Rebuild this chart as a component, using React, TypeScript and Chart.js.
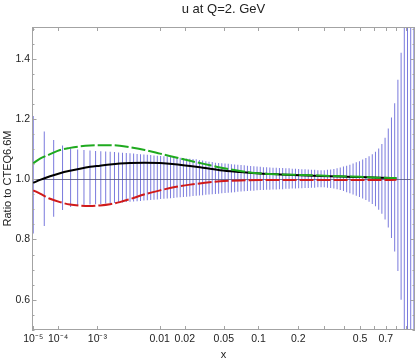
import React, { useEffect, useRef } from "react";
import { Chart, registerables, Scale } from "chart.js";

Chart.register(...registerables);

// ---------- axis settings ----------
const POWER = 0.2; // x axis is drawn on an x^0.2 scale
const X_MIN = 8.6e-6;
const X_MAX = 1;
const Y_MIN = 0.4995;
const Y_MAX = 1.5052;
const REF_Y = 1;

const X_TICKS = [1e-5, 1e-4, 1e-3, 0.01, 0.02, 0.05, 0.1, 0.2, 0.3, 0.4, 0.5, 0.6, 0.7, 0.8, 0.9];
const X_LABELS = ["10\u207B\u2075", "10\u207B\u2074", "10\u207B\u00B3", "0.01", "0.02", "0.05", "0.1", "0.2", "", "", "0.5", "", "0.7", "", ""];
const Y_TICKS = [0.5, 0.55, 0.6, 0.65, 0.7, 0.75, 0.8, 0.85, 0.9, 0.95, 1.0, 1.05, 1.1, 1.15, 1.2, 1.25, 1.3, 1.35, 1.4, 1.45, 1.5];
const Y_LABELED = [0.6, 0.8, 1.0, 1.2, 1.4];

// ---------- error band (CTEQ6.6 uncertainty) ----------
const BAR_X = [
  1.0e-5, 3.17e-5, 7.13e-5, 1.38e-4, 2.35e-4, 3.59e-4, 5.1e-4, 6.98e-4, 9.18e-4, 1.17e-3,
  1.455e-3, 1.763e-3, 2.104e-3, 2.478e-3, 2.88e-3, 3.32e-3, 3.8e-3, 4.318e-3, 4.874e-3, 5.468e-3,
  6.118e-3, 6.832e-3, 7.605e-3, 8.42e-3, 9.31e-3, 0.01027, 0.01131, 0.01243, 0.01364, 0.01494,
  0.01628, 0.01773, 0.01929, 0.02095, 0.02272, 0.0246, 0.02661, 0.02875, 0.03102, 0.03344,
  0.036, 0.03873, 0.04161, 0.04466, 0.04787, 0.0513, 0.0549, 0.0587, 0.06271, 0.06693,
  0.0714, 0.07608, 0.081, 0.0862, 0.09167, 0.09736, 0.1034, 0.1096, 0.1162, 0.1231,
  0.1303, 0.1379, 0.1458, 0.1541, 0.1628, 0.1718, 0.1812, 0.191, 0.2012, 0.2119,
  0.2231, 0.2347, 0.2467, 0.2593, 0.2724, 0.286, 0.3001, 0.3148, 0.33, 0.3459,
  0.3624, 0.3794, 0.3971, 0.4154, 0.4345, 0.4542, 0.4746, 0.4958, 0.5177, 0.5404,
  0.5638, 0.5881, 0.6132, 0.6392, 0.6659, 0.6936, 0.7222, 0.7517, 0.7823, 0.814,
  0.8466, 0.8801, 0.9147, 0.9503, 0.9871,
];
const BAR_LOW = [
  0.82, 0.845, 0.875, 0.898, 0.908, 0.913, 0.915, 0.916, 0.917, 0.918,
  0.919, 0.92, 0.921, 0.922, 0.923, 0.924, 0.925, 0.926, 0.927, 0.928,
  0.929, 0.93, 0.931, 0.932, 0.933, 0.934, 0.935, 0.936, 0.937, 0.938,
  0.939, 0.94, 0.941, 0.942, 0.943, 0.944, 0.945, 0.946, 0.947, 0.948,
  0.949, 0.95, 0.951, 0.952, 0.953, 0.954, 0.955, 0.956, 0.957, 0.958,
  0.959, 0.96, 0.961, 0.962, 0.962, 0.963, 0.964, 0.964, 0.965, 0.965,
  0.966, 0.966, 0.967, 0.967, 0.968, 0.968, 0.969, 0.969, 0.97, 0.97,
  0.971, 0.971, 0.972, 0.972, 0.973, 0.973, 0.973, 0.972, 0.971, 0.969,
  0.967, 0.964, 0.961, 0.957, 0.953, 0.949, 0.945, 0.941, 0.936, 0.931,
  0.925, 0.918, 0.91, 0.899, 0.885, 0.866, 0.84, 0.805, 0.76, 0.695,
  0.6, 0.48, 0.3, 0.0, -0.5,
];
const BAR_HIGH = [
  1.21, 1.158, 1.13, 1.112, 1.103, 1.099, 1.097, 1.095, 1.094, 1.093,
  1.092, 1.091, 1.09, 1.089, 1.088, 1.087, 1.086, 1.085, 1.084, 1.083,
  1.082, 1.081, 1.08, 1.079, 1.078, 1.077, 1.076, 1.075, 1.074, 1.073,
  1.072, 1.071, 1.07, 1.069, 1.068, 1.067, 1.066, 1.064, 1.062, 1.06,
  1.058, 1.057, 1.055, 1.054, 1.053, 1.052, 1.051, 1.05, 1.049, 1.048,
  1.047, 1.046, 1.045, 1.044, 1.043, 1.042, 1.041, 1.04, 1.04, 1.039,
  1.038, 1.038, 1.037, 1.037, 1.036, 1.036, 1.035, 1.035, 1.034, 1.033,
  1.033, 1.032, 1.031, 1.031, 1.03, 1.03, 1.03, 1.031, 1.032, 1.034,
  1.036, 1.039, 1.042, 1.045, 1.048, 1.052, 1.056, 1.06, 1.065, 1.07,
  1.076, 1.083, 1.091, 1.102, 1.117, 1.138, 1.168, 1.205, 1.252, 1.33,
  1.42, 1.54, 1.75, 2.1, 2.6,
];

// ---------- curves ----------
const CURVE_X = [
  1e-5, 2.1e-5, 5.3e-5, 1.15e-4, 2.26e-4, 4.1e-4, 7.0e-4, 1.13e-3, 1.75e-3, 2.6e-3,
  3.8e-3, 6.3e-3, 0.0101, 0.0154, 0.0228, 0.0328, 0.046, 0.07, 0.103, 0.147,
  0.206, 0.282, 0.378, 0.5, 0.651, 0.8,
];
const GREEN = [
  1.053, 1.068, 1.083, 1.097, 1.104, 1.109, 1.112, 1.113, 1.113, 1.111,
  1.106, 1.097, 1.085, 1.073, 1.061, 1.05, 1.039, 1.027, 1.019, 1.016,
  1.014, 1.012, 1.01, 1.008, 1.005, 1.004,
];
const BLACK = [
  0.988, 0.998, 1.01, 1.02, 1.028, 1.035, 1.041, 1.045, 1.049, 1.052,
  1.054, 1.055, 1.054, 1.05, 1.044, 1.037, 1.03, 1.024, 1.019, 1.016,
  1.013, 1.011, 1.009, 1.007, 1.005, 1.003,
];
const RED = [
  0.963, 0.952, 0.935, 0.924, 0.916, 0.912, 0.911, 0.913, 0.917, 0.924,
  0.934, 0.95, 0.963, 0.974, 0.982, 0.988, 0.993, 0.996, 0.997, 0.997,
  0.997, 0.997, 0.997, 0.997, 0.997, 0.998,
];

// ---------- power (x^p) scale ----------
class PowerScale extends Scale {
  static id = "power";
  static defaults = {};
  _s = 0;
  _e = 1;
  determineDataLimits() {
    const o: any = this.options;
    const mm = (this as any).getMinMax(false);
    (this as any).min = typeof o.min === "number" ? o.min : mm.min;
    (this as any).max = typeof o.max === "number" ? o.max : mm.max;
  }
  buildTicks() {
    return X_TICKS.map((v) => ({ value: v }));
  }
  getLabelForValue(v: number) {
    return String(v);
  }
  configure() {
    super.configure();
    this._s = Math.pow((this as any).min, POWER);
    this._e = Math.pow((this as any).max, POWER);
  }
  getPixelForValue(v: number) {
    if (v === null || v === undefined || !isFinite(v) || v <= 0) return NaN;
    return this.getPixelForDecimal((Math.pow(v, POWER) - this._s) / (this._e - this._s));
  }
  getValueForPixel(px: number) {
    const d = this.getDecimalForPixel(px);
    return Math.pow(this._s + d * (this._e - this._s), 1 / POWER);
  }
}
Chart.register(PowerScale as any);

const FONT = "'Liberation Sans', Arial, Helvetica, sans-serif";
const TEXT = "#222222";
const FRAME = "#a3a3a3";

const refLinePlugin = {
  id: "refLine",
  afterDatasetDraw(chart: any, args: any) {
    if (args.index !== 0) return;
    const { ctx, chartArea: a } = chart;
    const y = Math.round(chart.scales.y.getPixelForValue(REF_Y)) + 0.5;
    ctx.save();
    ctx.strokeStyle = "rgba(80,80,120,0.8)";
    ctx.lineWidth = 1;
    ctx.beginPath();
    ctx.moveTo(a.left, y);
    ctx.lineTo(a.right, y);
    ctx.stroke();
    ctx.restore();
  },
};

const framePlugin = {
  id: "frame",
  afterDatasetsDraw(chart: any) {
    const { ctx, chartArea: a, scales } = chart;
    const xs = scales.x;
    const ys = scales.y;
    ctx.save();
    ctx.strokeStyle = FRAME;
    ctx.lineWidth = 1;
    ctx.strokeRect(a.left + 0.5, a.top + 0.5, a.right - a.left - 1, a.bottom - a.top - 1);
    ctx.beginPath();
    X_TICKS.forEach((v) => {
      const px = Math.round(xs.getPixelForValue(v)) + 0.5;
      ctx.moveTo(px, a.bottom);
      ctx.lineTo(px, a.bottom - 4);
      ctx.moveTo(px, a.top);
      ctx.lineTo(px, a.top + 4);
    });
    Y_TICKS.forEach((v) => {
      const py = Math.round(ys.getPixelForValue(v)) + 0.5;
      const len = Y_LABELED.includes(v) ? 4.5 : 2.5;
      ctx.moveTo(a.left, py);
      ctx.lineTo(a.left + len, py);
      ctx.moveTo(a.right, py);
      ctx.lineTo(a.right - len, py);
    });
    ctx.stroke();
    ctx.restore();
  },
};

export default function App() {
  const ref = useRef<HTMLCanvasElement>(null);

  useEffect(() => {
    const canvas = ref.current;
    if (!canvas) return;
    Chart.defaults.font.family = FONT;
    Chart.defaults.color = TEXT;

    const bars = {
      type: "bar",
      label: "CTEQ6.6 error",
      data: BAR_X.map((x, i) => ({ x, y: [BAR_LOW[i], BAR_HIGH[i]] })),
      backgroundColor: "rgba(85,85,212,0.78)",
      borderWidth: 0,
      barThickness: 1,
      grouped: false,
      inflateAmount: 0,
      order: 10,
    };
    const curve = (label: string, ys: number[], color: string, dash: number[], order: number) => ({
      type: "line",
      label,
      data: CURVE_X.map((x, i) => ({ x, y: ys[i] })),
      borderColor: color,
      borderWidth: 2,
      borderDash: dash,
      pointRadius: 0,
      fill: false,
      cubicInterpolationMode: "monotone",
      order,
    });

    const chart = new Chart(canvas, {
      type: "line",
      data: {
        datasets: [
          bars as any,
          curve("black", BLACK, "#000000", [], 3),
          curve("red", RED, "#d01a1a", [14, 3], 2),
          curve("green", GREEN, "#1faa1f", [14, 3], 1),
        ],
      },
      options: {
        responsive: false,
        animation: false,
        devicePixelRatio: 1,
        events: [],
        layout: { padding: 0 },
        plugins: {
          legend: { display: false },
          tooltip: { enabled: false },
          title: {
            display: true,
            text: "u at Q=2. GeV",
            fullSize: false,
            color: TEXT,
            font: { size: 13, weight: "normal", family: FONT },
            padding: { top: 2, bottom: 9.4 },
          },
        },
        scales: {
          x: {
            type: "power" as any,
            position: "bottom",
            min: X_MIN,
            max: X_MAX,
            offset: false,
            grid: { display: false, drawTicks: false },
            border: { display: false },
            ticks: {
              autoSkip: false,
              maxRotation: 0,
              minRotation: 0,
              padding: 3,
              color: TEXT,
              font: { size: 10.5, family: FONT },
              callback: (_v: any, i: number) => X_LABELS[i],
            },
            title: {
              display: true,
              text: "x",
              color: TEXT,
              font: { size: 11, family: FONT },
              padding: { top: 0, bottom: 0 },
            },
            afterFit: (s: any) => {
              s.height = 32;
            },
          } as any,
          y: {
            type: "linear",
            min: Y_MIN,
            max: Y_MAX,
            grid: { display: false, drawTicks: false },
            border: { display: false },
            afterBuildTicks: (s: any) => {
              s.ticks = Y_TICKS.map((v) => ({ value: v }));
            },
            ticks: {
              autoSkip: false,
              padding: 2,
              color: TEXT,
              font: { size: 10.5, family: FONT },
              callback: (v: any) => (Y_LABELED.includes(v) ? Number(v).toFixed(1) : ""),
            },
            title: {
              display: true,
              text: "Ratio to CTEQ6.6M",
              color: TEXT,
              font: { size: 11, family: FONT },
              padding: { top: 1.7, bottom: 0 },
            },
            afterFit: (s: any) => {
              s.width = 32;
            },
          } as any,
        },
      },
      plugins: [refLinePlugin, framePlugin],
    } as any);

    return () => chart.destroy();
  }, []);

  return (
    <div style={{ position: "absolute", left: 0, top: 0, width: 415, height: 362, background: "#ffffff" }}>
      <canvas ref={ref} width={415} height={362} style={{ display: "block", width: 415, height: 362 }} />
    </div>
  );
}
